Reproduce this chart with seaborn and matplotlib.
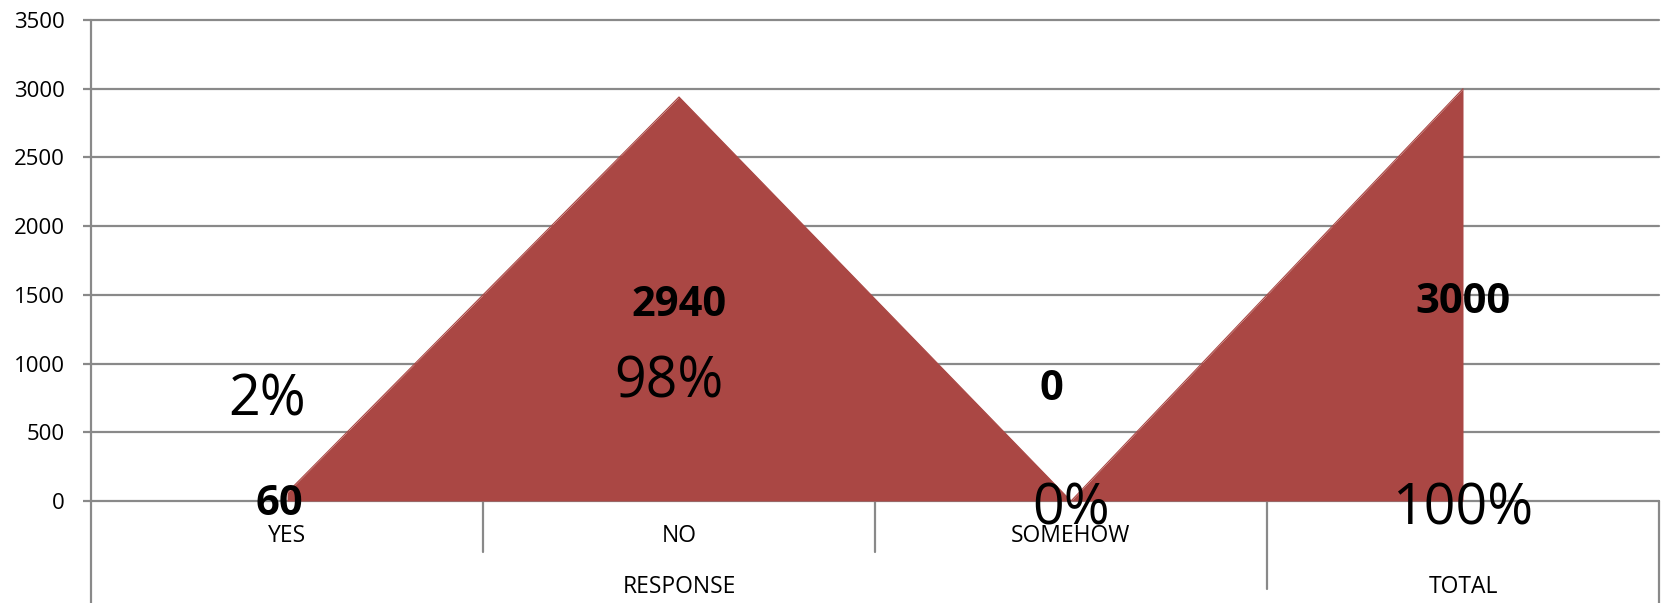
import numpy as np
import pandas as pd
import matplotlib
matplotlib.use("Agg")
import matplotlib.pyplot as plt
import matplotlib.transforms as mtransforms
import seaborn as sns

# ---- data -------------------------------------------------------------
categories = ["YES", "NO", "SOMEHOW", ""]
groups = ["RESPONSE", "RESPONSE", "RESPONSE", "TOTAL"]
counts = [60, 2940, 0, 3000]
y_ticks = [0, 500, 1000, 1500, 2000, 2500, 3000, 3500]

total = counts[-1]
percents = [f"{round(100 * c / total)}%" for c in counts]

# ---- label placement (x shift in category units, y in axis units) -----
count_dx = [-0.02, 0.0, -0.05, 0.0]
count_y = [-25, 1420, 808, 1442]
pct_dx = [-0.05, -0.025, 0.0, 0.0]
pct_y = [725, 862, -65, -68]

# ---- style ------------------------------------------------------------
sns.set_theme(style="white")
plt.rcParams["font.family"] = ["Open Sans", "DejaVu Sans"]

AREA = "#AA4744"
GRID = "#898989"
LW = 1.6

W, H = 1664, 603
fig = plt.figure(figsize=(W / 100, H / 100), dpi=100)
fig.patch.set_facecolor("white")
ax = fig.add_axes([91 / W, 102 / H, 1568 / W, 481 / H])
ax.set_facecolor("white")

x = np.arange(len(categories))
df = pd.DataFrame({"pos": x, "count": counts})

ax.fill_between(df["pos"], df["count"], 0, color=AREA, lw=0, zorder=3)
sns.lineplot(data=df, x="pos", y="count", color=AREA, lw=0.8, ax=ax, zorder=3)

ax.set_xlim(-0.5, len(categories) - 0.5)
ax.set_ylim(0, 3500)
ax.set_yticks(y_ticks)
ax.set_yticklabels([str(v) for v in y_ticks], fontsize=16, color="black")
ax.set_xticks([])
ax.set_xlabel("")
ax.set_ylabel("")
ax.grid(False)

for v in y_ticks:
    ax.axhline(v, color=GRID, lw=LW, zorder=1, clip_on=False)

ax.tick_params(axis="y", length=6, width=LW, color=GRID, pad=13, left=True)
for side in ["top", "right", "bottom", "left"]:
    ax.spines[side].set_visible(False)

# vertical axis line and category dividers below the plot
trans = mtransforms.blended_transform_factory(ax.transData, ax.transAxes)
px = 1.0 / 481


def vline(xpos, top, depth_px):
    ax.plot([xpos, xpos], [top, -depth_px * px], transform=trans,
            color=GRID, lw=LW, clip_on=False, zorder=2)


vline(-0.5, 1.0, 102)
vline(0.5, 0.0, 51)
vline(1.5, 0.0, 51)
vline(2.5, 0.0, 88)
vline(3.5, 0.0, 102)

# category and group labels
for i, c in enumerate(categories):
    if c:
        ax.text(i, -35 * px, c, transform=trans, ha="center", va="center",
                fontsize=16.5, color="black")

group_names = list(dict.fromkeys(groups))
for g in group_names:
    members = [i for i, gg in enumerate(groups) if gg == g]
    ax.text(np.mean(members), -86 * px, g, transform=trans, ha="center",
            va="center", fontsize=16.5, color="black")

# value labels
for i, c in enumerate(counts):
    ax.text(i + count_dx[i], count_y[i], str(c), ha="center", va="center",
            fontsize=30, fontweight="bold", color="black", zorder=5,
            clip_on=False)
    ax.text(i + pct_dx[i], pct_y[i], percents[i], ha="center", va="center",
            fontsize=40, color="black", zorder=5, clip_on=False)

fig.savefig("out.png", dpi=100, facecolor="white")
